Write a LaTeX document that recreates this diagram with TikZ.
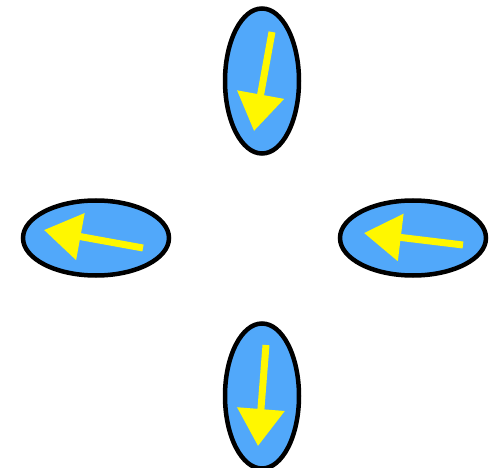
\documentclass[tikz,border=0pt]{standalone}
\usepackage{tikz}
\usetikzlibrary{shapes.geometric, arrows.meta, positioning, calc}
\definecolor{padblue}{RGB}{81,168,250}
\definecolor{pointyellow}{RGB}{255,247,0}

\begin{document}
\begin{tikzpicture}[
    x=1pt, y=-1pt,
    upright/.style={ellipse, draw, line width=4.5pt, fill=padblue, inner sep=0pt, minimum width=74pt, minimum height=145pt},
    lying/.style={ellipse, draw, line width=4.5pt, fill=padblue, inner sep=0pt, minimum width=146pt, minimum height=75pt},
    pointer/.style={-{Triangle[length=37pt, width=46pt]}, line width=7pt, pointyellow},
]
\useasboundingbox (0,0) rectangle (504,468);
\node[upright] (top) at (262,81) {};
\node[lying] (left) at (96,238) {};
\node[lying] (right) at (413,238) {};
\node[upright] (bottom) at (262,396) {};

\draw[pointer] ([shift={(10,-49)}]top.center) -- ([shift={(-8,50)}]top.center);
\draw[pointer] ([shift={(47,10)}]left.center) -- ([shift={(-52,-8)}]left.center);
\draw[pointer] ([shift={(50,7)}]right.center) -- ([shift={(-49,-5)}]right.center);
\draw[pointer] ([shift={(4,-51)}]bottom.center) -- ([shift={(-4,50)}]bottom.center);
\end{tikzpicture}
\end{document}
